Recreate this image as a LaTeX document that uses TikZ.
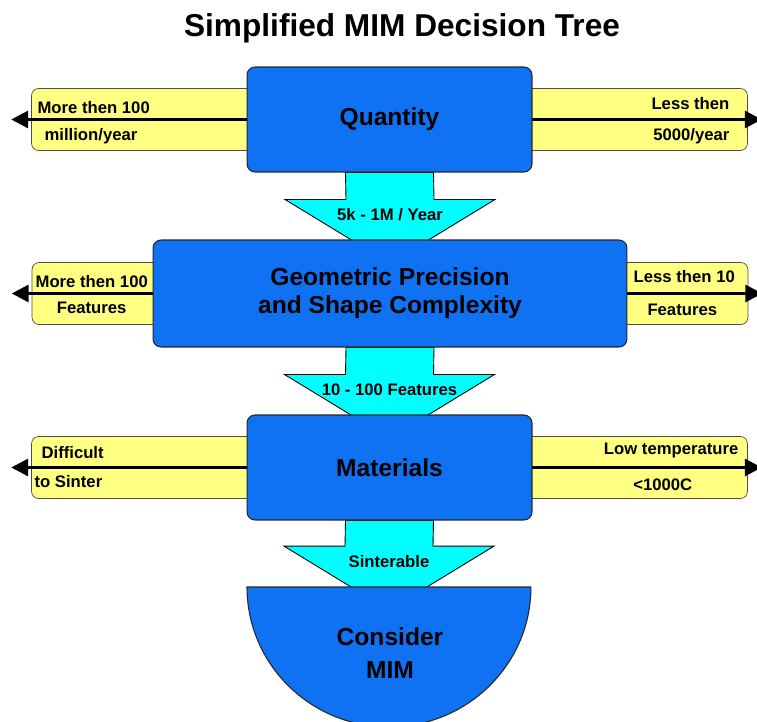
\documentclass[tikz,border=0pt]{standalone}
\usepackage{fontspec}
\setmainfont{Liberation Sans}
\usepackage{xcolor}
\usetikzlibrary{calc,arrows.meta,backgrounds}
\definecolor{boxblue}{RGB}{14,114,242}
\definecolor{flowcyan}{RGB}{0,255,255}
\definecolor{bandyellow}{RGB}{255,255,130}
\tikzset{
  decision/.style={draw=black!85,fill=boxblue,rounded corners=0.16cm,line width=0.6pt,
    font=\fontsize{14}{16}\selectfont\bfseries,align=center},
  band/.style={draw=black!70,fill=bandyellow,rounded corners=0.14cm,
    minimum width=14.32cm,minimum height=1.24cm},
  branch/.style={line width=1.8pt,-{Triangle[length=0.34cm,width=0.34cm]}},
  flow/.style={draw=black,fill=flowcyan,line width=0.5pt},
  small/.style={font=\fontsize{9.5}{11}\selectfont\bfseries,inner sep=0pt},
}
\begin{document}
\begin{tikzpicture}[x=0.02cm,y=-0.02cm]
	\useasboundingbox (0,0) rectangle (757,722);
	%
	%  TITLE
	%
	\node (title) at (402,28) {\fontsize{18}{20}\selectfont\bfseries Simplified MIM Decision Tree};
	%
	%  DECISIONS
	%
	\node[decision,minimum width=5.7cm,minimum height=2.1cm] (q) at (389.5,119.5) {Quantity};
	\node[decision,minimum width=9.48cm,minimum height=2.14cm] (g) at (390,293.5) {Geometric Precision\\and Shape Complexity};
	\node[decision,minimum width=5.7cm,minimum height=2.1cm] (m) at (389.5,467.5) {Materials};
	\node[inner sep=0pt,outer sep=0pt] (c) at (389,587) {};
	\draw[decision,rounded corners=0pt] ($(c)+(-142,0)$) arc[start angle=180,end angle=360,x radius=2.84cm,y radius=2.8cm] -- cycle;
	\node[font=\fontsize{14}{19}\selectfont\bfseries,align=center] (mim) at (390,653) {Consider\\MIM};
	%
	%  BANDS AND FLOWS
	%
	\begin{scope}[on background layer]
	\foreach \a in {q,g,m} {
		\node[band] (\a band) at (\a) {};
		\draw[branch] (\a band.center) -- ($(\a band.west)+(-20,0)$);
		\draw[branch] (\a band.center) -- ($(\a band.east)+(14,0)$);
	}
	\foreach \a/\b/\t in {q/g/{5k - 1M / Year},g/m/{10 - 100 Features},m/c/Sinterable} {
		\draw[flow] ($(\a.south)+(-44,0)$) -- ($(\b.north)+(-44,-40)$) -- ($(\b.north)+(-105,-40)$)
			-- ($(\b.north)+(0,24)$) -- ($(\b.north)+(105,-40)$) -- ($(\b.north)+(44,-40)$)
			-- ($(\a.south)+(44,0)$) -- cycle;
		\node[small] (\a lab) at ($(\b.north)+(0,-25)$) {\t};
	}
	\end{scope}
	%
	%  BRANCH LABELS
	%
	\node[small,anchor=west] (q1) at ($(qband.west)+(6,-12)$) {More then 100};
	\node[small,anchor=west] (q2) at ($(qband.west)+(13,17)$) {million/year};
	\node[small,anchor=east] (q3) at ($(qband.east)+(-18,-16)$) {Less then};
	\node[small,anchor=east] (q4) at ($(qband.east)+(-18,17)$) {5000/year};
	\node[small] (g1) at ($(gband.west)+(60,-11.5)$) {More then 100};
	\node[small] (g2) at ($(gband.west)+(60,14.5)$) {Features};
	\node[small] (g3) at ($(gband.east)+(-64,-16.5)$) {Less then 10};
	\node[small] (g4) at ($(gband.east)+(-66,16.5)$) {Features};
	\node[small,anchor=west] (m1) at ($(mband.west)+(10,-14.5)$) {Difficult};
	\node[small,anchor=west] (m2) at ($(mband.west)+(3,14.5)$) {to Sinter};
	\node[small,anchor=east] (m3) at ($(mband.east)+(-9,-17.5)$) {Low temperature};
	\node[small] (m4) at ($(mband.east)+(-85,17.5)$) {<1000C};
\end{tikzpicture}
\end{document}
